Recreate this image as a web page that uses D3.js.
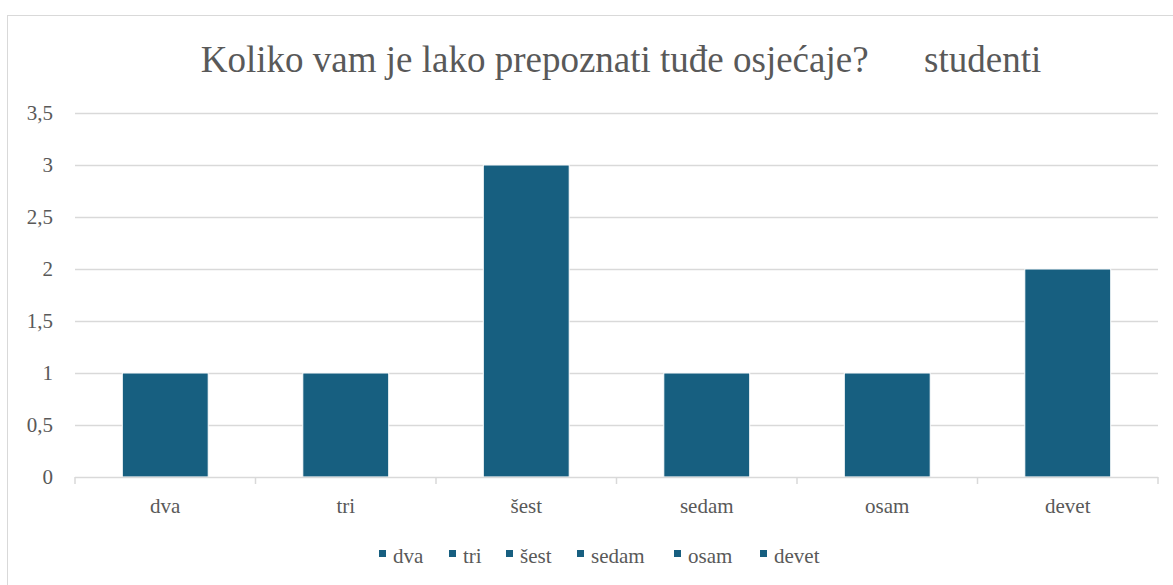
<!DOCTYPE html>
<html>
<head>
<meta charset="utf-8">
<script src="https://cdn.jsdelivr.net/npm/d3@7"></script>
<style>
  body { margin: 0; background: #fff; }
  svg { display: block; }
</style>
</head>
<body>
<svg id="chart" width="1173" height="585"></svg>
<script>
// data
const categories = ["dva", "tri", "šest", "sedam", "osam", "devet"];
const values = [1, 1, 3, 1, 1, 2];
const yTicks = [0, 0.5, 1, 1.5, 2, 2.5, 3, 3.5];
const titleText = "Koliko vam je lako prepoznati tuđe osjećaje?\u00a0\u00a0\u00a0\u00a0\u00a0\u00a0studenti";

const barColor = "#175f80";
const textColor = "#595959";
const gridColor = "#d9d9d9";
const serif = "'Liberation Serif'";

const svg = d3.select("#chart");

// outer chart border (runs off the picture on the right and bottom)
svg.append("rect")
    .attr("x", 7.5).attr("y", 15.5)
    .attr("width", 1200).attr("height", 600)
    .attr("fill", "none")
    .attr("stroke", gridColor);

const plot = {left: 75, right: 1158, top: 113, bottom: 477};

const x = d3.scaleBand()
    .domain(categories)
    .range([plot.left, plot.right])
    .paddingInner(0.524)
    .paddingOuter(0.262);

const y = d3.scaleLinear()
    .domain([0, 3.5])
    .range([plot.bottom, plot.top]);

// title
svg.append("text")
    .attr("x", 621).attr("y", 72)
    .attr("text-anchor", "middle")
    .attr("fill", textColor)
    .style("font-family", serif)
    .style("font-size", "37px")
    .text(titleText);

// gridlines
svg.append("g")
    .selectAll("line")
    .data(yTicks.filter(d => d > 0))
    .enter().append("line")
    .attr("x1", plot.left).attr("x2", plot.right)
    .attr("y1", d => Math.round(y(d)) + 0.5)
    .attr("y2", d => Math.round(y(d)) + 0.5)
    .attr("stroke", gridColor)
    .attr("stroke-width", 1.5);

// y tick labels
svg.append("g")
    .selectAll("text")
    .data(yTicks)
    .enter().append("text")
    .attr("x", 53)
    .attr("y", d => y(d) + 7)
    .attr("text-anchor", "end")
    .attr("fill", textColor)
    .style("font-family", serif)
    .style("font-size", "21px")
    .text(d => String(d).replace(".", ","));

// bars
svg.append("g")
    .selectAll("rect")
    .data(values)
    .enter().append("rect")
    .attr("x", (d, i) => x(categories[i]))
    .attr("y", d => y(d))
    .attr("width", x.bandwidth())
    .attr("height", d => y(0) - y(d))
    .attr("fill", barColor)
    .attr("stroke", "#ffffff")
    .attr("stroke-width", 1);

// x axis line with ticks between categories
const step = x.step();
const xAxis = svg.append("g");
xAxis.append("line")
    .attr("x1", plot.left).attr("x2", plot.right)
    .attr("y1", plot.bottom + 0.5).attr("y2", plot.bottom + 0.5)
    .attr("stroke", gridColor)
    .attr("stroke-width", 1.5);
xAxis.selectAll("line.tick")
    .data(d3.range(categories.length + 1))
    .enter().append("line")
    .attr("class", "tick")
    .attr("x1", i => plot.left + i * step)
    .attr("x2", i => plot.left + i * step)
    .attr("y1", plot.bottom)
    .attr("y2", plot.bottom + 7)
    .attr("stroke", gridColor)
    .attr("stroke-width", 1.5);

// category labels
svg.append("g")
    .selectAll("text")
    .data(categories)
    .enter().append("text")
    .attr("x", d => x(d) + x.bandwidth() / 2)
    .attr("y", 513)
    .attr("text-anchor", "middle")
    .attr("fill", textColor)
    .style("font-family", serif)
    .style("font-size", "21px")
    .text(d => d);

// legend
const legend = svg.append("g");
const legendX = [379, 449, 506, 577, 674, 760];
const items = legend.selectAll("g")
    .data(categories)
    .enter().append("g")
    .attr("transform", (d, i) => "translate(" + legendX[i] + ",0)");
items.append("rect")
    .attr("x", 0).attr("y", 550)
    .attr("width", 7).attr("height", 7)
    .attr("fill", barColor);
items.append("text")
    .attr("x", 14).attr("y", 563)
    .attr("fill", textColor)
    .style("font-family", serif)
    .style("font-size", "21px")
    .text(d => d);
</script>
</body>
</html>
